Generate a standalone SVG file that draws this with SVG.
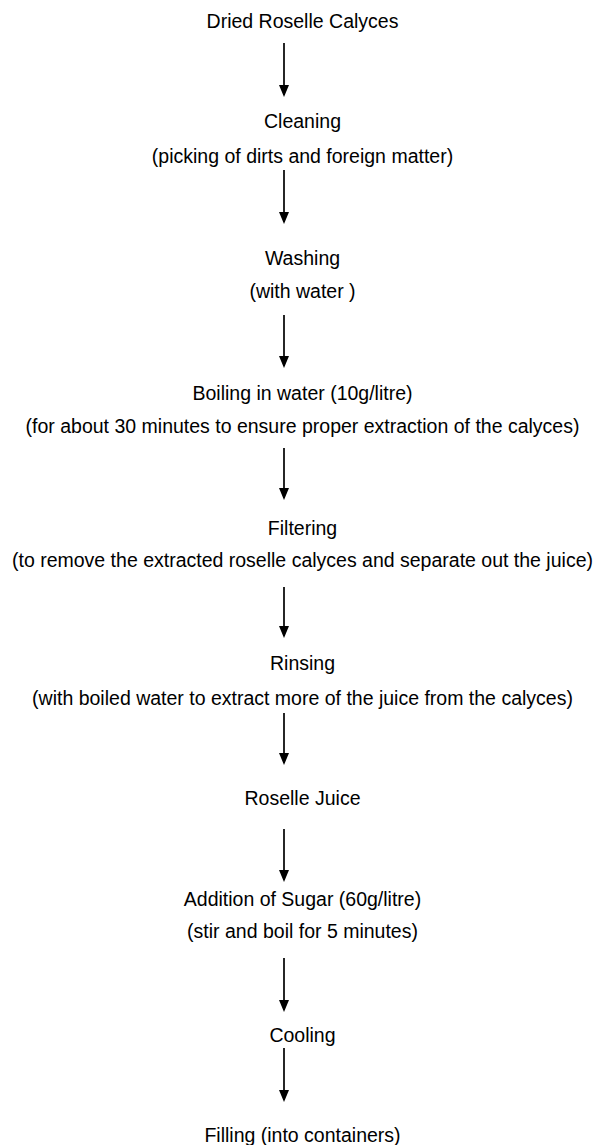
<svg xmlns="http://www.w3.org/2000/svg" width="597" height="1145" viewBox="0 0 597 1145">
  <style>
    text { font-family: "Liberation Sans", Arial, sans-serif; font-size: 19.5px; fill: #000; text-anchor: middle; }
    .conn line { stroke: #000; stroke-width: 1.7; fill: none; }
  </style>
  <defs>
    <marker id="ah" viewBox="0 0 12 10" refX="10" refY="5" markerWidth="12" markerHeight="10" markerUnits="userSpaceOnUse" orient="auto">
      <path d="M0,0 L12,5 L0,10 z" fill="#000"/>
    </marker>
  </defs>
  <rect x="0" y="0" width="597" height="1145" fill="#fff"/>

  <g id="n1"><text x="302.5" y="28">Dried Roselle Calyces</text></g>
  <g id="n2"><text x="302.5" y="128">Cleaning</text><text x="302.5" y="163">(picking of dirts and foreign matter)</text></g>
  <g id="n3"><text x="302.5" y="265">Washing</text><text x="302.5" y="298">(with water )</text></g>
  <g id="n4"><text x="302.5" y="400">Boiling in water (10g/litre)</text><text x="302.5" y="433">(for about 30 minutes to ensure proper extraction of the calyces)</text></g>
  <g id="n5"><text x="302.5" y="535">Filtering</text><text x="302.5" y="567">(to remove the extracted roselle calyces and separate out the juice)</text></g>
  <g id="n6"><text x="302.5" y="670">Rinsing</text><text x="302.5" y="705">(with boiled water to extract more of the juice from the calyces)</text></g>
  <g id="n7"><text x="302.5" y="805">Roselle Juice</text></g>
  <g id="n8"><text x="302.5" y="906">Addition of Sugar (60g/litre)</text><text x="302.5" y="938">(stir and boil for 5 minutes)</text></g>
  <g id="n9"><text x="302.5" y="1042">Cooling</text></g>
  <g id="n10"><text x="302.5" y="1142">Filling (into containers)</text></g>

  <g id="connectors" class="conn">
    <line x1="284" y1="43" x2="284" y2="95" marker-end="url(#ah)"/>
    <line x1="284" y1="170" x2="284" y2="222" marker-end="url(#ah)"/>
    <line x1="284" y1="315" x2="284" y2="366" marker-end="url(#ah)"/>
    <line x1="284" y1="448" x2="284" y2="498" marker-end="url(#ah)"/>
    <line x1="284" y1="587" x2="284" y2="636" marker-end="url(#ah)"/>
    <line x1="284" y1="713" x2="284" y2="763" marker-end="url(#ah)"/>
    <line x1="284" y1="829" x2="284" y2="880" marker-end="url(#ah)"/>
    <line x1="284" y1="958" x2="284" y2="1010" marker-end="url(#ah)"/>
    <line x1="284" y1="1048" x2="284" y2="1100" marker-end="url(#ah)"/>
  </g>
</svg>
